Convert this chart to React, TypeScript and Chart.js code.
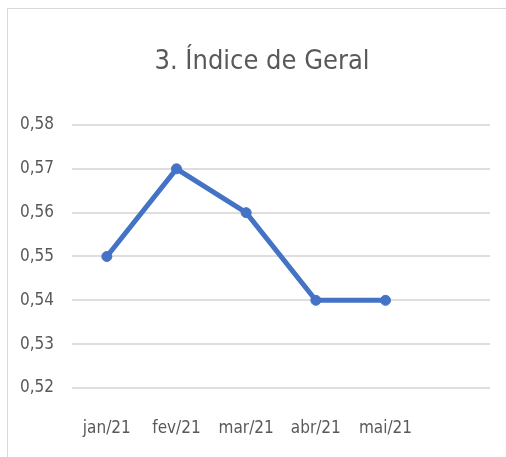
import React, { useEffect, useRef } from "react";
import { Chart, registerables } from "chart.js";

Chart.register(...registerables);

const titleText = "3. Índice de Geral";
const categories = ["jan/21", "fev/21", "mar/21", "abr/21", "mai/21", ""];
const values: (number | null)[] = [0.55, 0.57, 0.56, 0.54, 0.54, null];
const yMin = 0.52;
const yMax = 0.58;
const yStep = 0.01;

const FONT = "'Liberation Sans Narrow', 'DejaVu Sans Condensed', 'Open Sans', sans-serif";
const TEXT = "#595959";

const shiftTitle = {
  id: "shiftTitle",
  afterLayout(chart: any) {
    const t = chart.titleBlock;
    if (t) t.left += 26;
  },
};

export default function App() {
  const ref = useRef<HTMLCanvasElement | null>(null);
  useEffect(() => {
    if (!ref.current) return;
    const chart = new Chart(ref.current, {
      type: "line",
      data: {
        labels: categories,
        datasets: [
          {
            data: values,
            borderColor: "#4472C4",
            backgroundColor: "#4472C4",
            borderWidth: 5,
            pointRadius: 5,
            pointBorderWidth: 1,
            pointBackgroundColor: "#4472C4",
            pointBorderColor: "#4472C4",
            tension: 0,
          },
        ],
      },
      plugins: [shiftTitle],
      options: {
        responsive: false,
        animation: false,
        layout: { padding: { left: 0, right: 16, top: 0, bottom: 0 } },
        plugins: {
          legend: { display: false },
          tooltip: { enabled: false },
          title: {
            display: true,
            text: titleText,
            color: TEXT,
            font: { family: FONT, size: 27, weight: "normal", lineHeight: 1.2 },
            padding: { top: 36.5, bottom: 47.1 },
          },
        },
        scales: {
          x: {
            offset: true,
            grid: { display: false, drawTicks: false },
            border: { display: false },
            ticks: {
              color: TEXT,
              font: { family: FONT, size: 17 },
              padding: 30,
              maxRotation: 0,
              autoSkip: false,
            },
            afterFit: (s: any) => {
              s.height = 69;
            },
          },
          y: {
            min: yMin,
            max: yMax,
            grid: { color: "#dedede", lineWidth: 2, drawTicks: false },
            border: { display: false },
            ticks: {
              stepSize: yStep,
              color: TEXT,
              font: { family: FONT, size: 17 },
              padding: 18,
              callback: (v: any) => Number(v).toFixed(2).replace(".", ","),
            },
            afterFit: (s: any) => {
              s.width = 64;
            },
          },
        },
      },
    });
    return () => chart.destroy();
  }, []);
  return (
    <div
      style={{
        position: "fixed",
        left: 7,
        top: 8,
        width: 499,
        height: 449,
        borderLeft: "1px solid #d9d9d9",
        borderTop: "1px solid #d9d9d9",
        boxSizing: "border-box",
        background: "#fff",
      }}
    >
      <canvas ref={ref} width={498} height={448} style={{ display: "block" }} />
    </div>
  );
}
